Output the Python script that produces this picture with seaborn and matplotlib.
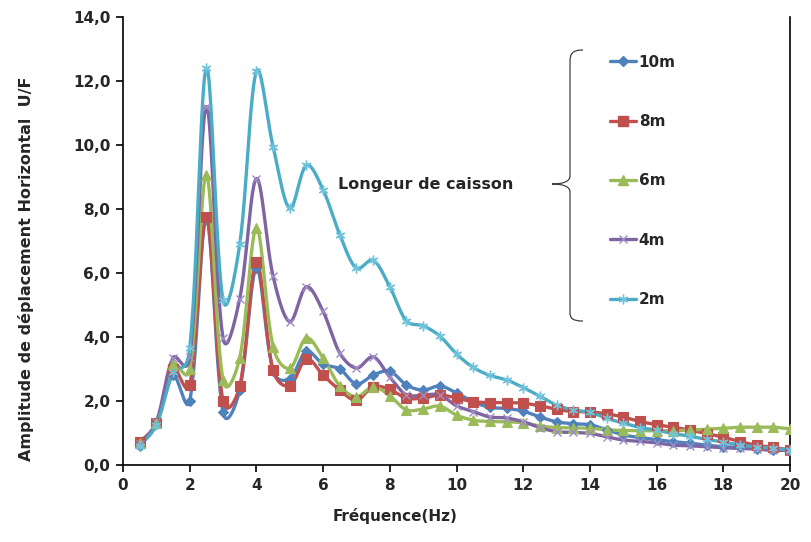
import numpy as np
import pandas as pd
import matplotlib
matplotlib.use("Agg")
import matplotlib.pyplot as plt
from matplotlib.lines import Line2D
from matplotlib.path import Path
from matplotlib.patches import PathPatch
import seaborn as sns

# Frequencies (Hz) and horizontal displacement amplitude U/F per caisson length
freq = [0.5, 1.0, 1.5, 2.0, 2.5, 3.0, 3.5, 4.0, 4.5, 5.0,
        5.5, 6.0, 6.5, 7.0, 7.5, 8.0, 8.5, 9.0, 9.5, 10.0,
        10.5, 11.0, 11.5, 12.0, 12.5, 13.0, 13.5, 14.0, 14.5, 15.0,
        15.5, 16.0, 16.5, 17.0, 17.5, 18.0, 18.5, 19.0, 19.5, 20.0]

amp_10m = [0.60, 1.30, 2.80, 2.00, 7.70, 1.65, 2.35, 6.15, 2.95, 2.70,
           3.55, 3.15, 3.00, 2.53, 2.81, 2.93, 2.50, 2.34, 2.47, 2.25,
           1.98, 1.80, 1.77, 1.68, 1.50, 1.35, 1.29, 1.26, 1.10, 0.94,
           0.86, 0.79, 0.73, 0.68, 0.62, 0.57, 0.55, 0.50, 0.46, 0.46]

amp_8m = [0.72, 1.30, 3.00, 2.50, 7.75, 2.00, 2.47, 6.35, 2.97, 2.48,
          3.32, 2.81, 2.34, 2.02, 2.45, 2.36, 2.09, 2.09, 2.19, 2.09,
          1.98, 1.95, 1.95, 1.93, 1.85, 1.74, 1.67, 1.66, 1.60, 1.50,
          1.36, 1.26, 1.18, 1.09, 0.98, 0.87, 0.73, 0.62, 0.55, 0.47]

amp_6m = [0.68, 1.30, 3.15, 3.00, 9.05, 2.65, 3.35, 7.40, 3.70, 3.02,
          3.97, 3.34, 2.47, 2.13, 2.45, 2.16, 1.72, 1.75, 1.84, 1.56,
          1.40, 1.36, 1.35, 1.32, 1.22, 1.17, 1.16, 1.15, 1.10, 1.08,
          1.07, 1.07, 1.07, 1.09, 1.12, 1.15, 1.18, 1.18, 1.18, 1.13]

amp_4m = [0.65, 1.35, 3.35, 3.37, 11.20, 3.97, 5.20, 8.95, 5.90, 4.48,
          5.57, 4.80, 3.50, 3.03, 3.38, 2.75, 2.19, 2.19, 2.19, 1.85,
          1.67, 1.50, 1.47, 1.35, 1.17, 1.04, 1.02, 0.99, 0.88, 0.78,
          0.74, 0.69, 0.62, 0.60, 0.57, 0.54, 0.52, 0.50, 0.47, 0.45]

amp_2m = [0.60, 1.25, 2.90, 3.65, 12.40, 5.15, 6.90, 12.30, 9.95, 8.02,
          9.37, 8.60, 7.20, 6.15, 6.40, 5.57, 4.50, 4.35, 4.03, 3.47,
          3.05, 2.80, 2.66, 2.42, 2.15, 1.87, 1.72, 1.65, 1.46, 1.31,
          1.17, 1.09, 0.98, 0.90, 0.80, 0.72, 0.62, 0.57, 0.52, 0.47]

labels = ["10m", "8m", "6m", "4m", "2m"]
series = [amp_10m, amp_8m, amp_6m, amp_4m, amp_2m]
colors = ["#4F81BD", "#C0504D", "#9BBB59", "#8064A2", "#4BACC6"]
marker_colors = ["#4F81BD", "#C0504D", "#9BBB59", "#9E8CC4", "#6FC3DA"]
markers = ["D", "s", "^", "x", (6, 2, 0)]
msizes = [5, 6.5, 7, 6, 7]


def smooth(x, y, n=24, yscale=1.0, mix=0.5):
    """Bezier smoothing through every point; tangent split partly by chord length."""
    pts = np.column_stack([np.asarray(x, float), np.asarray(y, float) * yscale])
    m = len(pts)
    c_out = np.zeros_like(pts)
    c_in = np.zeros_like(pts)
    for i in range(m):
        prev = pts[max(i - 1, 0)]
        nxt = pts[min(i + 1, m - 1)]
        tang = nxt - prev
        d0 = np.linalg.norm(pts[i] - prev)
        d1 = np.linalg.norm(nxt - pts[i])
        tot = d0 + d1 if d0 + d1 > 0 else 1.0
        w_out = mix * d1 / tot + (1 - mix) * 0.5
        w_in = mix * d0 / tot + (1 - mix) * 0.5
        c_out[i] = pts[i] + tang * w_out / 3.0
        c_in[i] = pts[i] - tang * w_in / 3.0
    t = np.linspace(0, 1, n, endpoint=False)[:, None]
    out = []
    for i in range(m - 1):
        p1, b1, b2, p2 = pts[i], c_out[i], c_in[i + 1], pts[i + 1]
        seg = ((1 - t) ** 3) * p1 + 3 * ((1 - t) ** 2) * t * b1 + 3 * (1 - t) * t ** 2 * b2 + t ** 3 * p2
        out.append(seg)
    out.append(pts[-1][None, :])
    c = np.vstack(out)
    return c[:, 0], c[:, 1] / yscale


sns.set_theme(style="white")
plt.rcParams["font.family"] = ["DejaVu Sans"]

fig = plt.figure(figsize=(8.11, 5.42), dpi=100)
ax = fig.add_axes([123 / 811, 77 / 542, 667 / 811, 448 / 542])

# scale so smoothing is done in roughly isotropic screen units
ys = 32.0 / 33.35
rows = []
for lab, vals in zip(labels, series):
    sx, sy = smooth(freq, vals, yscale=ys)
    rows.append(pd.DataFrame({"f": sx, "a": sy, "serie": lab}))
curves = pd.concat(rows, ignore_index=True)

sns.lineplot(data=curves, x="f", y="a", hue="serie", palette=dict(zip(labels, colors)),
             units="serie", estimator=None, sort=False, linewidth=2.4, legend=False, ax=ax)

for lab, vals, c, mc, m, ms in zip(labels, series, colors, marker_colors, markers, msizes):
    ax.plot(freq, vals, linestyle="none", marker=m, markersize=ms, color=mc,
            markeredgecolor=mc, markeredgewidth=1.0 if m in ("x", (6, 2, 0)) else 0.8, zorder=3)

ax.set_xlim(0, 20)
ax.set_ylim(0, 14)
ax.set_xticks(np.arange(0, 21, 2))
ax.set_yticks(np.arange(0, 15, 2))
ax.set_yticklabels([f"{v:.1f}".replace(".", ",") for v in np.arange(0, 15, 2)])
ax.tick_params(axis="both", direction="out", length=5, width=1.2, color="black",
               labelsize=11, pad=4, bottom=True, left=True)
for lbl in ax.get_xticklabels() + ax.get_yticklabels():
    lbl.set_fontweight("bold")
for side in ["left", "bottom", "right", "top"]:
    ax.spines[side].set_color("black")
    ax.spines[side].set_linewidth(1.2)
ax.spines["top"].set_visible(False)
ax.grid(False)

ax.set_xlabel("Fréquence(Hz)", fontsize=11, fontweight="bold")
ax.xaxis.set_label_coords(0.408, -0.096)
ax.set_ylabel("Amplitude de déplacement Horizontal  U/F", fontsize=11.5, fontweight="bold")
ax.yaxis.set_label_coords(-0.133, 0.4375)

fig.text(338 / 811, 1 - 184 / 542, "Longeur de caisson", fontsize=11.5, fontweight="bold",
         ha="left", va="center")

handles = [Line2D([0], [0], color=c, marker=m, markersize=ms, markerfacecolor=mc,
                  markeredgecolor=mc, linewidth=2.4)
           for c, mc, m, ms in zip(colors, marker_colors, markers, msizes)]
leg = fig.legend(handles, labels, loc="upper left", bbox_to_anchor=(596 / 811, 1 - 41 / 542),
                 frameon=False, handlelength=1.7, handletextpad=0.2, labelspacing=2.9,
                 prop={"weight": "bold", "size": 11})

# curly brace grouping the legend entries
def fp(x, y):
    return (x / 811, 1 - y / 542)

verts = [fp(583, 50), fp(572, 50), fp(570, 54), fp(570, 62),
         fp(570, 176),
         fp(570, 182), fp(562, 184), fp(552, 184),
         fp(562, 184), fp(570, 186), fp(570, 192),
         fp(570, 312),
         fp(570, 318), fp(572, 321), fp(583, 321)]
codes = [Path.MOVETO, Path.CURVE4, Path.CURVE4, Path.CURVE4,
         Path.LINETO,
         Path.CURVE4, Path.CURVE4, Path.CURVE4,
         Path.CURVE4, Path.CURVE4, Path.CURVE4,
         Path.LINETO,
         Path.CURVE4, Path.CURVE4, Path.CURVE4]
brace = PathPatch(Path(verts, codes), transform=fig.transFigure, facecolor="none",
                  edgecolor="#404040", linewidth=0.9)
fig.patches.append(brace)

fig.savefig("out.png", dpi=100)
